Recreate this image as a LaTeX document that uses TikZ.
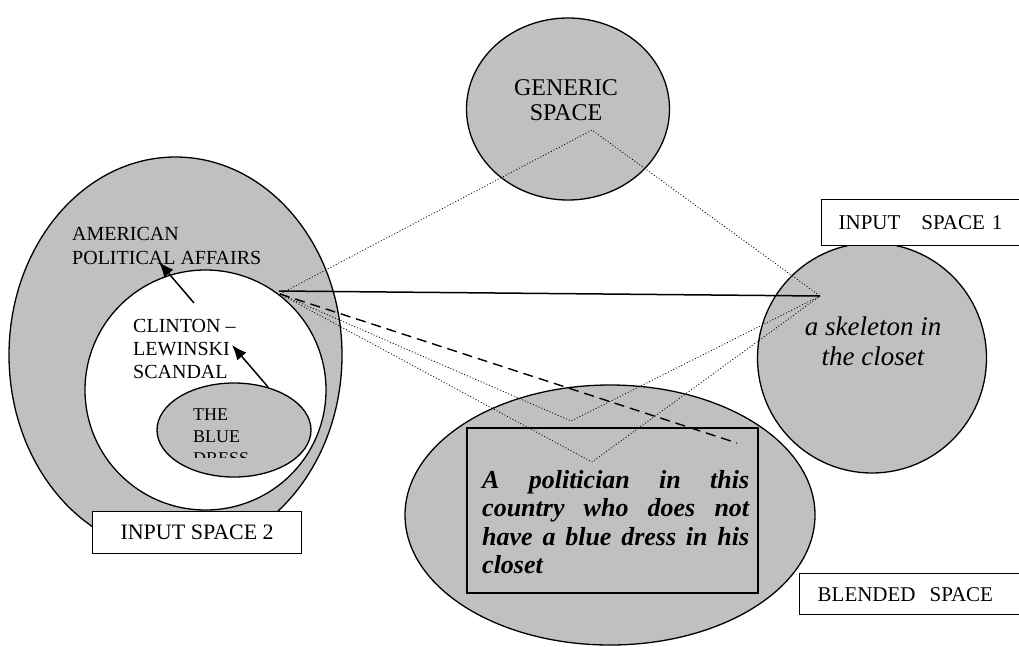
\documentclass[tikz,border=0pt]{standalone}
\usepackage{fontspec}
\setmainfont{Liberation Serif}
\usepackage{tikz}
\usetikzlibrary{shapes,arrows,arrows.meta,positioning}
\definecolor{spacegray}{RGB}{192, 192, 192}
\tikzstyle{space} = [ellipse, draw=black, line width=1.3pt, fill=spacegray, inner sep=0pt]
\tikzstyle{holespace} = [ellipse, draw=black, line width=1.3pt, fill=white, inner sep=0pt]
\tikzstyle{spacetag} = [rectangle, draw=black, line width=1.3pt, fill=white, text=black, font=\fontsize{21}{24}\selectfont]
\tikzstyle{caps} = [text=black, align=left, inner sep=0pt, font=\fontsize{20}{24}\selectfont]
\tikzstyle{mapline} = [draw, line width=0.8pt, dash pattern=on 1pt off 2pt]
\tikzstyle{tedge}  = [draw, line width=1.5pt, >={Latex[length=15pt,width=12pt]}, ->]

\begin{document}
\begin{tikzpicture}[x=1pt, y=-1pt]
\useasboundingbox (0,0) rectangle (1019,646);
\clip (0,0) rectangle (1019,646);

% input space 2 =============================
\node[space, minimum width=333pt, minimum height=396pt] (affairs) at (175.5,355) {};
\node[holespace, minimum width=241pt, minimum height=240pt] (scandal) at (205.5,390) {};
\node[space, minimum width=154pt, minimum height=94pt] (dress) at (234,430) {};
\node[caps, anchor=base west] (affairstext) at (72,264) {AMERICAN\\POLITICAL AFFAIRS};
\node[caps, anchor=base west, font=\fontsize{20}{23}\selectfont] (scandaltext) at (133,378) {CLINTON --\\LEWINSKI\\SCANDAL};
\begin{scope}
\clip (150,380) rectangle (320,457);
\node[caps, anchor=base west, font=\fontsize{18}{22}\selectfont] (dresstext) at (193,464) {THE\\BLUE\\DRESS};
\end{scope}
\coordinate (cl-tail) at (194,303);
\coordinate (am-head) at (159,262);
\coordinate (dr-tail) at (268,387);
\coordinate (cl-head) at (232,345);
\path[tedge] (cl-tail) -- (am-head);
\path[tedge] (dr-tail) -- (cl-head);

% generic, input 1 and blend =============================
\node[space, minimum width=203pt, minimum height=182pt] (generic) at (568,109) {};
\node[caps, anchor=base, align=center, font=\fontsize{24}{25}\selectfont] (generictext) at (566,120) {GENERIC\\SPACE};
\node[space, minimum width=229pt, minimum height=230pt] (skeleton) at (872,358) {};
\node[caps, anchor=base, align=center, font=\fontsize{27}{30}\selectfont\itshape] (skeletontext) at (873,365) {a skeleton in\\the closet};
\node[space, minimum width=410pt, minimum height=260pt] (blend) at (610,515) {};
\node[rectangle, draw=black, line width=1.6pt, minimum width=291pt, minimum height=165pt] (blendbox) at (612.5,510.5) {};
\node[caps, anchor=base west, text width=267pt, align=justify, font=\fontsize{26}{28.5}\selectfont\bfseries\itshape] (blendtext) at (482,488) {\hyphenpenalty=10000 A politician in this\linebreak country who does not\linebreak have a blue dress in his\linebreak closet};

% mappings
\coordinate (lhub) at (280,294);
\coordinate (rhub) at (820,296);
\coordinate (gapex) at (592,130);
\coordinate (bapex1) at (571,421);
\coordinate (bapex2) at (592,462);
\coordinate (dashend) at (737,443);
\path[mapline] (lhub) -- (gapex) -- (rhub);
\path[mapline] (lhub) -- (bapex1) -- (rhub);
\path[mapline] (lhub) -- (bapex2) -- (rhub);
\draw[line width=1.5pt] (279,291) -- (rhub);
\draw[line width=1.4pt, dash pattern=on 10pt off 6pt] (lhub) -- (dashend);

% tags
\node[spacetag, anchor=north west, minimum width=209pt, minimum height=42pt, font=\fontsize{22}{24}\selectfont] (tag2) at (92,511) {INPUT SPACE 2};
\node[spacetag, anchor=north west, minimum width=215pt, minimum height=46pt, text width=181pt, inner xsep=17pt, align=left] (tag1) at (821,199) {INPUT\ \ \ SPACE 1};
\node[spacetag, anchor=north west, minimum width=235pt, minimum height=41pt, text width=199pt, inner xsep=18pt, align=left] (tag3) at (799,573) {BLENDED\ \ SPACE};

\end{tikzpicture}
\end{document}
